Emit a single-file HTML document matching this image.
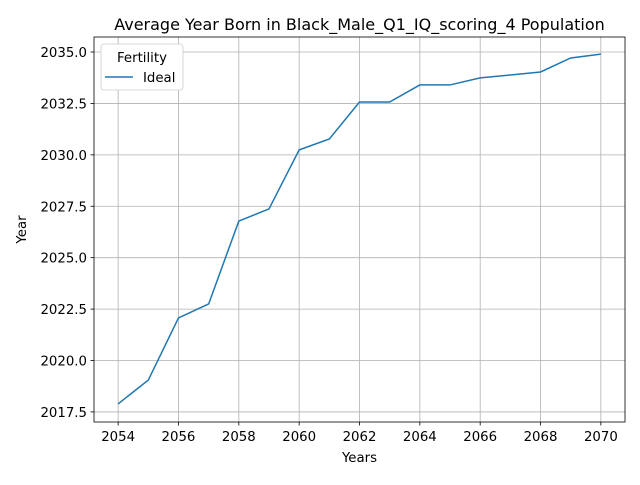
<!DOCTYPE html>
<html><head><meta charset="utf-8"><style>
body{margin:0;background:#fff;font-family:"Liberation Sans","DejaVu Sans",sans-serif}
text{font-family:"DejaVu Sans","Liberation Sans",sans-serif}
</style></head><body>
<svg id="chart" width="640" height="480"></svg>
<script>
const years=[2054,2055,2056,2057,2058,2059,2060,2061,2062,2063,2064,2065,2066,2067,2068,2069,2070];
const avgYearBorn=[2017.89,2019.05,2022.07,2022.75,2026.78,2027.37,2030.24,2030.77,2032.57,2032.57,2033.40,2033.40,2033.74,2033.88,2034.03,2034.71,2034.90];
const xTicks=[2054,2056,2058,2060,2062,2064,2066,2068,2070];
const yTicks=[2017.5,2020.0,2022.5,2025.0,2027.5,2030.0,2032.5,2035.0];
const L=94,R=625,T=37,B=422;
const xMin=2053.2,xMax=2070.8,yMin=2017.01,yMax=2035.73;
const sx=v=>L+(v-xMin)/(xMax-xMin)*(R-L);
const sy=v=>B-(v-yMin)/(yMax-yMin)*(B-T);
const svg=document.getElementById('chart');
const NS='http://www.w3.org/2000/svg';
function mk(t,a,p){const e=document.createElementNS(NS,t);for(const k in a)e.setAttribute(k,a[k]);(p||svg).appendChild(e);return e;}
for(const v of xTicks){const x=sx(v);
const g=mk('line',{x1:x,x2:x,y1:T,y2:B,stroke:'#b0b0b0','stroke-width':0.8});


mk('line',{x1:x,x2:x,y1:B,y2:B+3.5,stroke:'#000','stroke-width':0.8});
const t=mk('text',{x:x,y:B+19,'font-size':13.3,'text-anchor':'middle'});t.textContent=v;

}
for(const v of yTicks){const y=sy(v);
const g=mk('line',{x1:L,x2:R,y1:y,y2:y,stroke:'#b0b0b0','stroke-width':0.8});


mk('line',{x1:L-3.5,x2:L,y1:y,y2:y,stroke:'#000','stroke-width':0.8});
const t=mk('text',{x:L-7,y:y+5,'font-size':13.3,'text-anchor':'end'});t.textContent=v.toFixed(1);

}
const line=mk('polyline',{points:years.map((y,i)=>sx(y)+','+sy(avgYearBorn[i])).join(' '),fill:'none',stroke:'#1f77b4','stroke-width':1.5});


const fr=mk('rect',{x:L,y:T,width:R-L,height:B-T,fill:'none',stroke:'#000','stroke-width':0.8});


const ti=mk('text',{x:(L+R)/2,y:30,'font-size':16,'text-anchor':'middle'});ti.textContent='Average Year Born in Black_Male_Q1_IQ_scoring_4 Population';


const xl=mk('text',{x:(L+R)/2,y:462,'font-size':13.3,'text-anchor':'middle'});xl.textContent='Years';


const yl=mk('text',{x:0,y:0,'font-size':13.3,'text-anchor':'middle',transform:'translate(26,'+((T+B)/2)+') rotate(-90)'});yl.textContent='Year';


const lg=mk('g',{});


mk('rect',{x:101,y:44,width:82,height:46,rx:3,fill:'#fff',stroke:'#ccc','stroke-width':0.8},lg);
const lt=mk('text',{x:142,y:62,'font-size':13.3,'text-anchor':'middle'},lg);lt.textContent='Fertility';
mk('line',{x1:105,x2:133,y1:77,y2:77,stroke:'#1f77b4','stroke-width':1.5},lg);
const le=mk('text',{x:143,y:82,'font-size':13.3},lg);le.textContent='Ideal';


</script>
</body></html>
